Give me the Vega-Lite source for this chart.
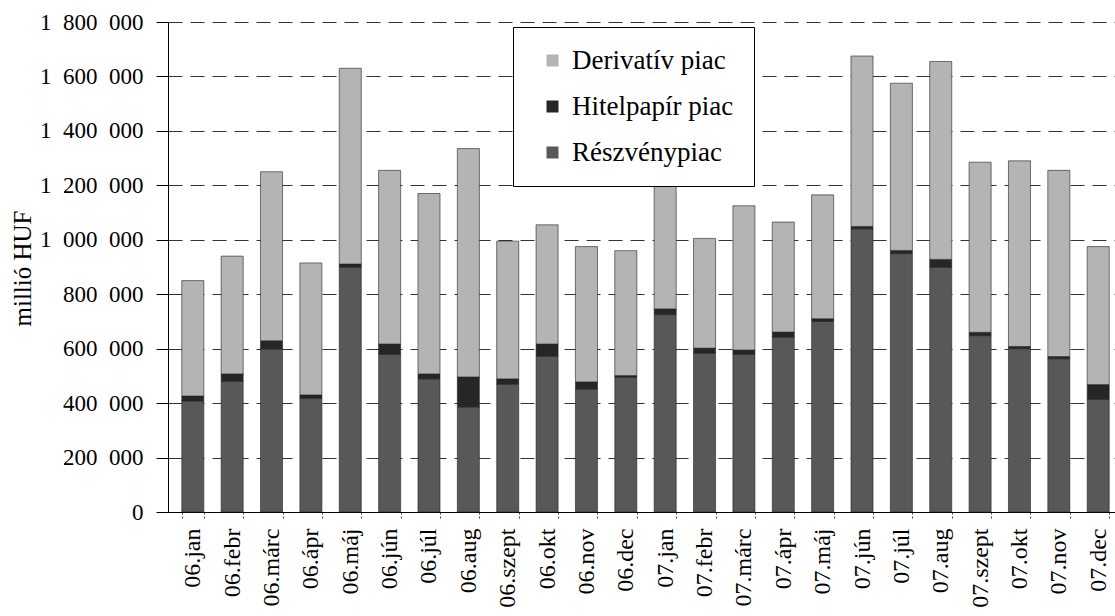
{
  "$schema": "https://vega.github.io/schema/vega-lite/v6.json",
  "width": 947,
  "height": 490,
  "autosize": {"type": "none"},
  "padding": {"left": 168, "top": 22, "right": 0, "bottom": 104},
  "background": "white",
  "config": {
    "view": {"stroke": null},
    "font": "Liberation Serif",
    "axis": {"labelFont": "Liberation Serif", "titleFont": "Liberation Serif"},
    "legend": {"labelFont": "Liberation Serif", "titleFont": "Liberation Serif"}
  },
  "data": {
    "values": [
      {"honap": "06.jan", "piac": "Részvénypiac", "ord": 1, "ertek": 408000},
      {"honap": "06.jan", "piac": "Hitelpapír piac", "ord": 2, "ertek": 18000},
      {"honap": "06.jan", "piac": "Derivatív piac", "ord": 3, "ertek": 424000},
      {"honap": "06.febr", "piac": "Részvénypiac", "ord": 1, "ertek": 481000},
      {"honap": "06.febr", "piac": "Hitelpapír piac", "ord": 2, "ertek": 26000},
      {"honap": "06.febr", "piac": "Derivatív piac", "ord": 3, "ertek": 433000},
      {"honap": "06.márc", "piac": "Részvénypiac", "ord": 1, "ertek": 599000},
      {"honap": "06.márc", "piac": "Hitelpapír piac", "ord": 2, "ertek": 30000},
      {"honap": "06.márc", "piac": "Derivatív piac", "ord": 3, "ertek": 621000},
      {"honap": "06.ápr", "piac": "Részvénypiac", "ord": 1, "ertek": 418000},
      {"honap": "06.ápr", "piac": "Hitelpapír piac", "ord": 2, "ertek": 12000},
      {"honap": "06.ápr", "piac": "Derivatív piac", "ord": 3, "ertek": 485000},
      {"honap": "06.máj", "piac": "Részvénypiac", "ord": 1, "ertek": 900000},
      {"honap": "06.máj", "piac": "Hitelpapír piac", "ord": 2, "ertek": 11000},
      {"honap": "06.máj", "piac": "Derivatív piac", "ord": 3, "ertek": 719000},
      {"honap": "06.jún", "piac": "Részvénypiac", "ord": 1, "ertek": 580000},
      {"honap": "06.jún", "piac": "Hitelpapír piac", "ord": 2, "ertek": 37000},
      {"honap": "06.jún", "piac": "Derivatív piac", "ord": 3, "ertek": 638000},
      {"honap": "06.júl", "piac": "Részvénypiac", "ord": 1, "ertek": 489000},
      {"honap": "06.júl", "piac": "Hitelpapír piac", "ord": 2, "ertek": 18000},
      {"honap": "06.júl", "piac": "Derivatív piac", "ord": 3, "ertek": 663000},
      {"honap": "06.aug", "piac": "Részvénypiac", "ord": 1, "ertek": 386000},
      {"honap": "06.aug", "piac": "Hitelpapír piac", "ord": 2, "ertek": 110000},
      {"honap": "06.aug", "piac": "Derivatív piac", "ord": 3, "ertek": 839000},
      {"honap": "06.szept", "piac": "Részvénypiac", "ord": 1, "ertek": 470000},
      {"honap": "06.szept", "piac": "Hitelpapír piac", "ord": 2, "ertek": 19000},
      {"honap": "06.szept", "piac": "Derivatív piac", "ord": 3, "ertek": 506000},
      {"honap": "06.okt", "piac": "Részvénypiac", "ord": 1, "ertek": 573000},
      {"honap": "06.okt", "piac": "Hitelpapír piac", "ord": 2, "ertek": 44000},
      {"honap": "06.okt", "piac": "Derivatív piac", "ord": 3, "ertek": 438000},
      {"honap": "06.nov", "piac": "Részvénypiac", "ord": 1, "ertek": 452000},
      {"honap": "06.nov", "piac": "Hitelpapír piac", "ord": 2, "ertek": 26000},
      {"honap": "06.nov", "piac": "Derivatív piac", "ord": 3, "ertek": 497000},
      {"honap": "06.dec", "piac": "Részvénypiac", "ord": 1, "ertek": 495000},
      {"honap": "06.dec", "piac": "Hitelpapír piac", "ord": 2, "ertek": 6000},
      {"honap": "06.dec", "piac": "Derivatív piac", "ord": 3, "ertek": 459000},
      {"honap": "07.jan", "piac": "Részvénypiac", "ord": 1, "ertek": 725000},
      {"honap": "07.jan", "piac": "Hitelpapír piac", "ord": 2, "ertek": 21000},
      {"honap": "07.jan", "piac": "Derivatív piac", "ord": 3, "ertek": 479000},
      {"honap": "07.febr", "piac": "Részvénypiac", "ord": 1, "ertek": 584000},
      {"honap": "07.febr", "piac": "Hitelpapír piac", "ord": 2, "ertek": 18000},
      {"honap": "07.febr", "piac": "Derivatív piac", "ord": 3, "ertek": 403000},
      {"honap": "07.márc", "piac": "Részvénypiac", "ord": 1, "ertek": 580000},
      {"honap": "07.márc", "piac": "Hitelpapír piac", "ord": 2, "ertek": 15000},
      {"honap": "07.márc", "piac": "Derivatív piac", "ord": 3, "ertek": 530000},
      {"honap": "07.ápr", "piac": "Részvénypiac", "ord": 1, "ertek": 643000},
      {"honap": "07.ápr", "piac": "Hitelpapír piac", "ord": 2, "ertek": 18000},
      {"honap": "07.ápr", "piac": "Derivatív piac", "ord": 3, "ertek": 404000},
      {"honap": "07.máj", "piac": "Részvénypiac", "ord": 1, "ertek": 700000},
      {"honap": "07.máj", "piac": "Hitelpapír piac", "ord": 2, "ertek": 10000},
      {"honap": "07.máj", "piac": "Derivatív piac", "ord": 3, "ertek": 455000},
      {"honap": "07.jún", "piac": "Részvénypiac", "ord": 1, "ertek": 1040000},
      {"honap": "07.jún", "piac": "Hitelpapír piac", "ord": 2, "ertek": 9000},
      {"honap": "07.jún", "piac": "Derivatív piac", "ord": 3, "ertek": 626000},
      {"honap": "07.júl", "piac": "Részvénypiac", "ord": 1, "ertek": 949000},
      {"honap": "07.júl", "piac": "Hitelpapír piac", "ord": 2, "ertek": 12000},
      {"honap": "07.júl", "piac": "Derivatív piac", "ord": 3, "ertek": 614000},
      {"honap": "07.aug", "piac": "Részvénypiac", "ord": 1, "ertek": 900000},
      {"honap": "07.aug", "piac": "Hitelpapír piac", "ord": 2, "ertek": 28000},
      {"honap": "07.aug", "piac": "Derivatív piac", "ord": 3, "ertek": 727000},
      {"honap": "07.szept", "piac": "Részvénypiac", "ord": 1, "ertek": 648000},
      {"honap": "07.szept", "piac": "Hitelpapír piac", "ord": 2, "ertek": 12000},
      {"honap": "07.szept", "piac": "Derivatív piac", "ord": 3, "ertek": 625000},
      {"honap": "07.okt", "piac": "Részvénypiac", "ord": 1, "ertek": 600000},
      {"honap": "07.okt", "piac": "Hitelpapír piac", "ord": 2, "ertek": 8000},
      {"honap": "07.okt", "piac": "Derivatív piac", "ord": 3, "ertek": 682000},
      {"honap": "07.nov", "piac": "Részvénypiac", "ord": 1, "ertek": 563000},
      {"honap": "07.nov", "piac": "Hitelpapír piac", "ord": 2, "ertek": 8000},
      {"honap": "07.nov", "piac": "Derivatív piac", "ord": 3, "ertek": 684000},
      {"honap": "07.dec", "piac": "Részvénypiac", "ord": 1, "ertek": 414000},
      {"honap": "07.dec", "piac": "Hitelpapír piac", "ord": 2, "ertek": 54000},
      {"honap": "07.dec", "piac": "Derivatív piac", "ord": 3, "ertek": 507000}
    ]
  },
  "mark": {"type": "bar", "stroke": "#222222", "strokeWidth": 0.6},
  "encoding": {
    "x": {
      "field": "honap",
      "type": "nominal",
      "sort": null,
      "scale": {"range": [0, 955], "paddingInner": 0.44, "paddingOuter": 0.35},
      "axis": {
        "title": null,
        "labelAngle": -90,
        "labelFont": "Liberation Serif",
        "labelFontSize": 24,
        "labelColor": "black",
        "labelPadding": 8,
        "tickBand": "extent",
        "tickSize": 8,
        "tickColor": "#444444",
        "tickDash": [2, 2],
        "domainColor": "black",
        "domainWidth": 1.2,
        "grid": false
      }
    },
    "y": {
      "field": "ertek",
      "type": "quantitative",
      "stack": "zero",
      "scale": {"domain": [0, 1800000], "nice": false},
      "axis": {
        "title": "millió HUF",
        "titleFont": "Liberation Serif",
        "titleFontSize": 25,
        "titleFontWeight": "normal",
        "titleColor": "black",
        "titleX": -146,
        "titleY": 246,
        "titleAngle": -90,
        "titleAlign": "center",
        "titleBaseline": "middle",
        "values": [0, 200000, 400000, 600000, 800000, 1000000, 1200000, 1400000, 1600000, 1800000],
        "labelExpr": "replace(format(datum.value, ','), /,/g, '\u2002')",
        "labelFont": "Liberation Serif",
        "labelFontSize": 23,
        "labelColor": "black",
        "labelPadding": 13,
        "tickSize": 12,
        "tickColor": "black",
        "domainColor": "black",
        "grid": true,
        "gridColor": "black",
        "gridDash": [14, 8],
        "gridWidth": 0.8
      }
    },
    "color": {
      "field": "piac",
      "type": "nominal",
      "scale": {
        "domain": ["Derivatív piac", "Hitelpapír piac", "Részvénypiac"],
        "range": ["#b4b4b4", "#262626", "#585858"]
      },
      "legend": {
        "title": null,
        "orient": "none",
        "legendX": 345,
        "legendY": 5,
        "labelFont": "Liberation Serif",
        "labelFontSize": 27,
        "labelColor": "black",
        "labelLimit": 400,
        "symbolType": "square",
        "symbolSize": 144,
        "symbolStrokeWidth": 0,
        "symbolOffset": 6,
        "labelOffset": 6,
        "padding": 20,
        "rowPadding": 18,
        "strokeColor": "black",
        "fillColor": "white"
      }
    },
    "order": {"field": "ord", "type": "quantitative"}
  }
}
